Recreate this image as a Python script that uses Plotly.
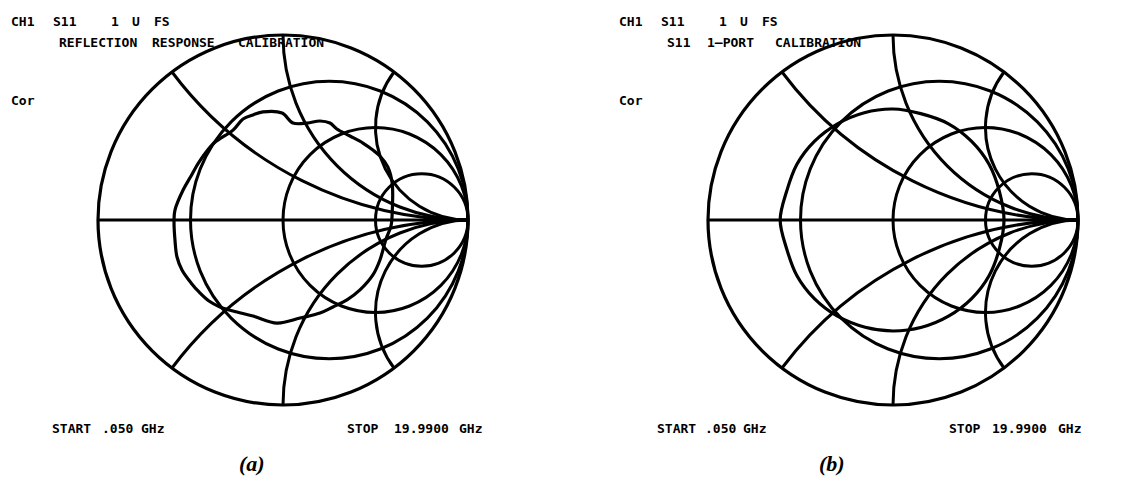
import plotly.graph_objects as go

# Smith chart graticule values (normalized impedance)
resistance_grid = [1 / 3, 1.0, 3.0]
reactance_grid = [-2.0, -1.0, -0.5, 0.5, 1.0, 2.0]

# Measured S11, reflection coefficient (real, imag) - reflection response calibration
s11_resp_re = [0.59, 0.590, 0.567, 0.524, 0.486, 0.432, 0.362, 0.291, 0.254, 0.200, 0.130, 0.054,
               -0.005, -0.108, -0.162, -0.216, -0.270, -0.373, -0.454, -0.497, -0.540, -0.584, -0.589,
               -0.584, -0.573, -0.546, -0.497, -0.454, -0.400, -0.341, -0.270, -0.162, -0.032, 0.092,
               0.200, 0.270, 0.346, 0.416, 0.486, 0.524, 0.557, 0.584, 0.59]
s11_resp_im = [0.032, 0.200, 0.286, 0.346, 0.378, 0.416, 0.454, 0.492, 0.524, 0.535, 0.524, 0.524,
               0.578, 0.584, 0.568, 0.546, 0.486, 0.416, 0.313, 0.238, 0.162, 0.054, 0.000,
               -0.108, -0.200, -0.270, -0.340, -0.389, -0.438, -0.470, -0.492, -0.519, -0.557, -0.530,
               -0.503, -0.470, -0.432, -0.378, -0.297, -0.216, -0.103, -0.032, 0.032]

# Measured S11 after full 1-port calibration
s11_cal_re = [0.60, 0.575, 0.520, 0.425, 0.300, 0.150, 0.00, -0.155, -0.300, -0.425, -0.520, -0.575,
              -0.61, -0.575, -0.520, -0.425, -0.300, -0.150, 0.00, 0.155, 0.300, 0.425, 0.520, 0.575, 0.60]
s11_cal_im = [0.00, 0.155, 0.300, 0.425, 0.520, 0.575, 0.600, 0.580, 0.520, 0.425, 0.300, 0.155,
              0.00, -0.155, -0.300, -0.425, -0.520, -0.580, -0.600, -0.580, -0.520, -0.425, -0.300, -0.155, 0.00]

# Screen annotation tokens: (text, left x px, centre y px, font size)
header_tokens = [("CH1", 9, 22, 13), ("S11", 51, 22, 13), ("1", 109, 22, 13),
                 ("U", 130, 22, 13), ("FS", 152, 22, 13), ("Cor", 9, 100, 13)]
title_a_tokens = [("REFLECTION", 57, 42), ("RESPONSE", 150, 42), ("CALIBRATION", 236, 42)]
title_b_tokens = [("S11", 665, 42), ("1\u2013PORT", 705, 42), ("CALIBRATION", 773, 42)]
footer_tokens = [("START", 50, 428), (".050", 100, 428), ("GHz", 139, 428),
                 ("STOP", 345, 428), ("19.9900", 392, 428), ("GHz", 457, 428),
                 ("START", 655, 428), (".050", 703, 428), ("GHz", 741, 428),
                 ("STOP", 947, 428), ("19.9900", 990, 428), ("GHz", 1056, 428)]
panel_labels = [("(a)", 252, 463), ("(b)", 832, 463)]


def to_impedance(g_re, g_im):
    zs = [(1 + complex(a, b)) / (1 - complex(a, b)) for a, b in zip(g_re, g_im)]
    return [z.real for z in zs], [z.imag for z in zs]


za_re, za_im = to_impedance(s11_resp_re, s11_resp_im)
zb_re, zb_im = to_impedance(s11_cal_re, s11_cal_im)

LW = 3.2

fig = go.Figure()
fig.add_trace(go.Scattersmith(real=za_re, imag=za_im, mode="lines", subplot="smith",
                              line=dict(color="black", width=LW, shape="spline"), showlegend=False))
fig.add_trace(go.Scattersmith(real=zb_re, imag=zb_im, mode="lines", subplot="smith2",
                              line=dict(color="black", width=LW, shape="spline"), showlegend=False))

W, H = 1129, 494


def smith_axes(x0, x1, y0, y1):
    common = dict(showticklabels=False, ticks="", gridcolor="black", gridwidth=LW,
                  linecolor="black", linewidth=LW, showline=True, showgrid=True)
    return dict(
        domain=dict(x=[x0 / W, x1 / W], y=[1 - y1 / H, 1 - y0 / H]),
        bgcolor="white",
        realaxis=dict(tickvals=resistance_grid, **common),
        imaginaryaxis=dict(tickvals=reactance_grid, **common),
    )


fig.update_layout(
    width=W, height=H, margin=dict(l=0, r=0, t=0, b=0),
    paper_bgcolor="white", plot_bgcolor="white",
    smith=smith_axes(98, 468, 35, 405),
    smith2=smith_axes(708, 1078, 35, 405),
    showlegend=False,
)

MONO = "DejaVu Sans Mono, Liberation Mono, monospace"


def label(text, x, y, size=13, anchor="left", fam=MONO):
    fig.add_annotation(text=text, x=x / W, y=1 - y / H, xref="paper", yref="paper",
                       xanchor=anchor, yanchor="middle", showarrow=False,
                       font=dict(family=fam, size=size, color="black"))


for off in (0, 608):
    for txt, x, y, s in header_tokens:
        label(f"<b>{txt}</b>", x + off, y, size=s)

for txt, x, y in title_a_tokens + title_b_tokens + footer_tokens:
    label(f"<b>{txt}</b>", x, y, size=13)

for txt, x, y in panel_labels:
    label(f"<b><i>{txt}</i></b>", x, y, size=22, anchor="center", fam="Liberation Serif")

fig.write_html("out.html")
